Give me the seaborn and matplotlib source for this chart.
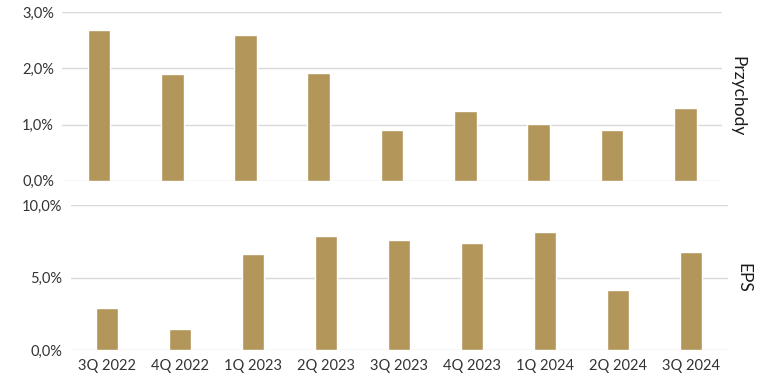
import pandas as pd
import matplotlib
matplotlib.use("Agg")
import matplotlib.pyplot as plt
import seaborn as sns
from matplotlib.ticker import FuncFormatter

# Data (percent)
quarters = ["3Q 2022", "4Q 2022", "1Q 2023", "2Q 2023", "3Q 2023",
            "4Q 2023", "1Q 2024", "2Q 2024", "3Q 2024"]
przychody = [2.69, 1.90, 2.60, 1.92, 0.90, 1.24, 1.01, 0.90, 1.30]
eps = [2.91, 1.47, 6.63, 7.87, 7.59, 7.38, 8.14, 4.15, 6.77]

bar_color = "#B39659"
grid_color = "#D9D9D9"
text_color = "#404040"

sns.set_style("white")
plt.rcParams["font.family"] = ["Lato", "DejaVu Sans"]

df_top = pd.DataFrame({"kw": quarters, "val": przychody})
df_bot = pd.DataFrame({"kw": quarters, "val": eps})

fig = plt.figure(figsize=(7.75, 3.82), dpi=100)
ax1 = fig.add_axes([0.0804, 0.527, 0.851, 0.4408])
ax2 = fig.add_axes([0.0912, 0.083, 0.8477, 0.3804])

pct = FuncFormatter(lambda v, p: f"{v:.1f}".replace(".", ",") + "%")

for ax, df, ticks, label in [(ax1, df_top, [0, 1, 2, 3], "Przychody"),
                             (ax2, df_bot, [0, 5, 10], "EPS")]:
    sns.barplot(data=df, x="kw", y="val", color=bar_color, saturation=1,
                width=0.31, ax=ax, zorder=3)
    ax.set_xlim(-0.5, len(quarters) - 0.5)
    ax.set_ylim(0, ticks[-1])
    ax.set_yticks(ticks)
    ax.yaxis.set_major_formatter(pct)
    ax.grid(axis="y", color=grid_color, linewidth=1, zorder=0)
    ax.set_axisbelow(True)
    for s in ax.spines.values():
        s.set_visible(False)
    ax.tick_params(axis="both", length=0, labelsize=10.5, colors="#333333", pad=6)
    ax.set_xlabel("")
    ax.yaxis.set_label_position("right")
    ax.set_ylabel(label, rotation=-90, fontsize=12.5, color="#1a1a1a", labelpad=17)

ax1.set_xticklabels([])

fig.savefig("out.png", dpi=100)
